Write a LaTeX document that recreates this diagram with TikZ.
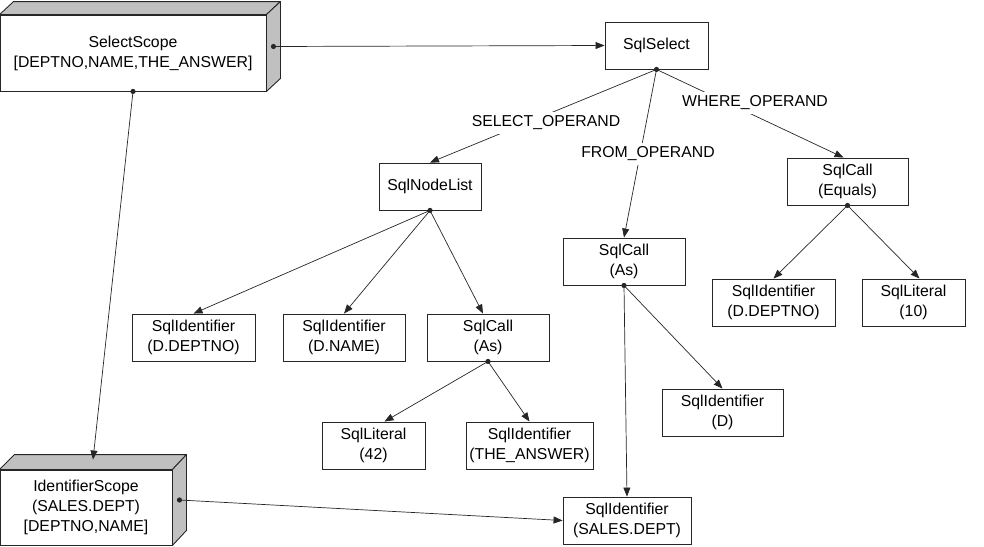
\documentclass[tikz,border=0pt]{standalone}
\usepackage{fontspec}
\setmainfont{Liberation Sans}
\usetikzlibrary{arrows.meta,calc}
\definecolor{faceGray}{HTML}{C0C0C0}
\definecolor{inkGray}{HTML}{262626}
\begin{document}
\begin{tikzpicture}[x=1pt,y=-1pt,
  every node/.style={font=\fontsize{15.8}{20}\selectfont, align=center, inner sep=0pt},
  ast/.style={draw=inkGray, line width=0.9pt, fill=white, minimum height=47pt},
  scopebox/.style={draw=inkGray, line width=0.9pt, fill=white},
  face/.style={draw=inkGray, line width=0.9pt, fill=faceGray, line join=round},
  edge/.style={draw=inkGray, line width=0.7pt, -{Triangle[length=9pt,width=7pt]}},
  role/.style={fill=white, inner xsep=2pt, minimum height=22pt}
]
\useasboundingbox (0,0) rectangle (984,546);

% --- scope objects drawn as 3D blocks ---
\node[scopebox, minimum width=266pt, minimum height=76pt] (ss) at (133,53)
  {SelectScope\\{}{[}DEPTNO,NAME,THE\_ANSWER{]}};
\filldraw[face] (ss.north west) -- ++(14,-13) -- ($(ss.north east)+(14,-13)$) -- (ss.north east) -- cycle;
\filldraw[face] (ss.north east) -- ++(14,-13) -- ($(ss.south east)+(14,-13)$) -- (ss.south east) -- cycle;

\node[scopebox, minimum width=172pt, minimum height=75pt] (is) at (86,507.5)
  {IdentifierScope\\(SALES.DEPT)\\{}{[}DEPTNO,NAME{]}};
\filldraw[face] (is.north west) -- ++(15,-15) -- ($(is.north east)+(14,-15)$) -- (is.north east) -- cycle;
\filldraw[face] (is.north east) -- ++(14,-15) -- ($(is.south east)+(14,-15)$) -- (is.south east) -- cycle;

\coordinate (ssport) at ($(ss.east)+(7,-6.5)$);
\coordinate (isport) at ($(is.east)+(7,-7.5)$);
\coordinate (istop)  at ($(is.north)+(7,-10)$);

% --- parse tree nodes ---
\node[ast, minimum width=103pt] (sel)    at (656.5,45.5) {SqlSelect};
\node[ast, minimum width=102pt] (nlist)  at (430,186.5)  {SqlNodeList};
\node[ast, minimum width=121pt] (eq)     at (847.5,181.5) {SqlCall\\(Equals)};
\node[ast, minimum width=122pt] (asfrom) at (624,261.5)  {SqlCall\\(As)};
\node[ast, minimum width=123pt] (eqid)   at (773.5,302.5) {SqlIdentifier\\(D.DEPTNO)};
\node[ast, minimum width=103pt] (lit10)  at (913.5,302.5) {SqlLiteral\\(10)};
\node[ast, minimum width=123pt] (iddept) at (193.5,337.5) {SqlIdentifier\\(D.DEPTNO)};
\node[ast, minimum width=122pt] (idname) at (344,337.5)   {SqlIdentifier\\(D.NAME)};
\node[ast, minimum width=122pt] (assel)  at (488,337.5)   {SqlCall\\(As)};
\node[ast, minimum width=103pt] (lit42)  at (373.5,445.5) {SqlLiteral\\(42)};
\node[ast, minimum width=127pt] (idans)  at (529.5,445.5) {SqlIdentifier\\(THE\_ANSWER)};
\node[ast, minimum width=121pt] (idd)    at (722.5,412.5) {SqlIdentifier\\(D)};
\node[ast, minimum width=128pt] (idsales) at (627,520.5)  {SqlIdentifier\\(SALES.DEPT)};

% --- connectors ---
\draw[edge] (ssport) -- (sel.west);
\draw[edge] (ss.south) -- (istop);
\draw[edge] (isport) -- (idsales.west);

\draw[edge] (sel.south) -- (nlist.north);
\draw[edge] (sel.south) -- (asfrom.north);
\draw[edge] (sel.south) -- ([xshift=-4pt]eq.north);

\draw[edge] (nlist.south) -- (iddept.north);
\draw[edge] (nlist.south) -- (idname.north);
\draw[edge] (nlist.south) -- ([xshift=-5pt]assel.north);

\draw[edge] (assel.south) -- ([xshift=11pt]lit42.north);
\draw[edge] (assel.south) -- (idans.north);

\draw[edge] (asfrom.south) -- (idd.north);
\draw[edge] (asfrom.south) -- (idsales.north);

\draw[edge] (eq.south) -- (eqid.north);
\draw[edge] (eq.south) -- ([xshift=6pt]lit10.north);

% connector start dots
\foreach \p in {ssport, ss.south, isport, sel.south, nlist.south, assel.south, asfrom.south, eq.south}
  \fill[inkGray] (\p) circle (2.6pt);

% --- operand labels ---
\node[role] (lselect) at (546,123) {SELECT\_OPERAND};
\node[role] (lfrom)   at (648,154) {FROM\_OPERAND};
\node[role] (lwhere)  at (755,103) {WHERE\_OPERAND};
\end{tikzpicture}
\end{document}
